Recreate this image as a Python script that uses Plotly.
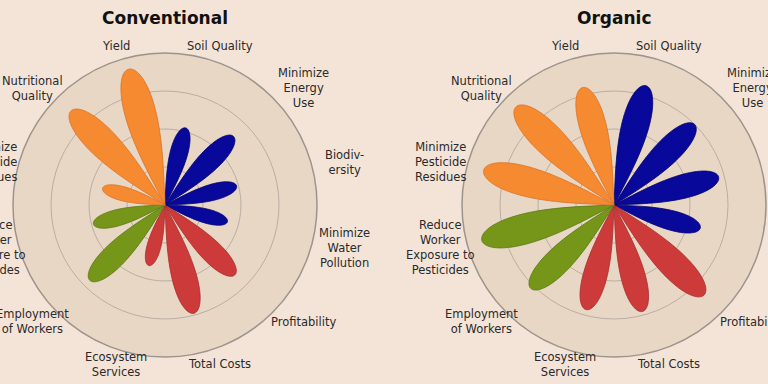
import numpy as np
import plotly.graph_objects as go

categories = [
    "Soil Quality", "Minimize<br>Energy<br>Use", "Biodiv-<br>ersity",
    "Minimize<br>Water<br>Pollution", "Profitability", "Total Costs",
    "Ecosystem<br>Services", "Employment<br>of Workers",
    "Reduce<br>Worker<br>Exposure to<br>Pesticides",
    "Minimize<br>Pesticide<br>Residues", "Nutritional<br>Quality", "Yield",
]
groups = ["env", "env", "env", "env", "eco", "eco", "eco", "soc", "soc", "prod", "prod", "prod"]
conventional = [2.1, 2.55, 1.95, 1.7, 2.6, 2.95, 1.65, 2.8, 1.95, 1.7, 3.5, 3.7]
organic = [3.25, 3.0, 2.85, 2.35, 3.35, 2.9, 2.85, 3.1, 3.6, 3.55, 3.65, 3.2]
titles = ["Conventional", "Organic"]
group_colors = {"env": "#08089a", "eco": "#cd3a3a", "soc": "#76961a", "prod": "#f68a30"}
group_edges = {"env": "#00006e", "eco": "#a82c2c", "soc": "#5a7610", "prod": "#d8722a"}

W, H = 768, 384
RMAX = 4.0
R_PX = 152.0
FONT_PX = 11.5
n = len(categories)
step = 360 / n
centers = [step / 2 + i * step for i in range(n)]

# polar subplot placement (pixel centre of each circle)
panel_centres = [(165, 205), (614, 205)]

# petal shape parameters
PETAL_K = 7.0
PETAL_P = 0.45


def label_pos(theta_deg):
    t = np.radians(theta_deg)
    s, c = np.sin(t), np.cos(t)
    ax = np.interp(abs(s), [0.26, 0.71, 0.97], [200, 192, 183])
    return ax * s + 3, -165 * c


fig = go.Figure()
annotations = []


def add_flower(values, polar_name, centre, title):
    half = 90.0 / PETAL_K
    for c, v, g in zip(centers, values, groups):
        phi = np.linspace(-half, half, 81)
        r = v * np.clip(np.cos(np.radians(phi) * PETAL_K), 0, None) ** PETAL_P
        fig.add_trace(go.Scatterpolar(
            r=r, theta=c + phi, mode="lines", fill="toself",
            fillcolor=group_colors[g], line=dict(color=group_edges[g], width=0.8),
            subplot=polar_name, showlegend=False, hoverinfo="skip",
        ))
    cx, cy = centre
    for text, t in zip(categories, centers):
        dx, dy = label_pos(t)
        annotations.append(dict(
            text=text, x=(cx + dx) / W, y=1 - (cy + dy) / H, xref="paper", yref="paper",
            xanchor="center", yanchor="middle", showarrow=False, align="center",
            font=dict(family="DejaVu Sans", size=FONT_PX, color="#2a2a2a"),
        ))
    annotations.append(dict(
        text="<b>" + title + "</b>", x=cx / W, y=1 - 18 / H, xref="paper", yref="paper",
        xanchor="center", yanchor="middle", showarrow=False,
        font=dict(family="DejaVu Sans", size=17, color="#111111"),
    ))


add_flower(conventional, "polar", panel_centres[0], titles[0])
add_flower(organic, "polar2", panel_centres[1], titles[1])

polar_common = dict(
    bgcolor="#e9d7c6",
    radialaxis=dict(range=[0, RMAX], tickvals=[1, 2, 3], showticklabels=False,
                    showline=False, ticks="", gridcolor="#b9aea3", gridwidth=1),
    angularaxis=dict(direction="clockwise", rotation=90, tickmode="array",
                     tickvals=centers, showticklabels=False, showgrid=False,
                     linecolor="#9c948c", linewidth=1.5, ticks=""),
)


def domain(centre):
    cx, cy = centre
    return dict(x=[(cx - R_PX) / W, (cx + R_PX) / W],
                y=[1 - (cy + R_PX) / H, 1 - (cy - R_PX) / H])


fig.update_layout(
    width=W, height=H,
    margin=dict(l=0, r=0, t=0, b=0),
    paper_bgcolor="#f4e4d8",
    polar=dict(domain=domain(panel_centres[0]), **polar_common),
    polar2=dict(domain=domain(panel_centres[1]), **polar_common),
    annotations=annotations,
)

fig.write_html("out.html", config={"displayModeBar": False},
               post_script="document.body.style.margin='0';document.body.style.overflow='hidden';")
